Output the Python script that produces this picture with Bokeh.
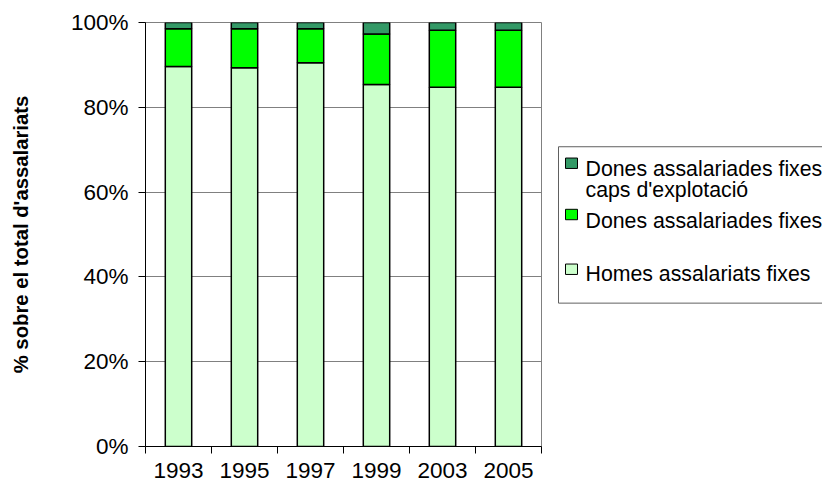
from bokeh.plotting import figure
from bokeh.layouts import row
from bokeh.models import FixedTicker, PrintfTickFormatter, Range1d, ColumnDataSource
from bokeh.core.properties import value
from bokeh.embed import file_html
from bokeh.resources import INLINE

# ---- data ----
years = ["1993", "1995", "1997", "1999", "2003", "2005"]
homes = [89.6, 89.3, 90.5, 85.4, 84.7, 84.7]
dones = [8.9, 9.2, 8.0, 11.9, 13.5, 13.5]
dones_caps = [1.5, 1.5, 1.5, 2.7, 1.8, 1.8]
series_names = ["Homes assalariats fixes", "Dones assalariades fixes",
                "Dones assalariades fixes\ncaps d'explotació"]
series_colors = ["#CCFFCC", "#00FF00", "#339966"]
y_ticks = [0, 20, 40, 60, 80, 100]

FONT = "Liberation Sans"

xs = list(range(1, len(years) + 1))
bounds = [x - 0.5 for x in xs] + [xs[-1] + 0.5]

src = ColumnDataSource(dict(x=xs, homes=homes, dones=dones, caps=dones_caps))

p = figure(width=550, height=488, output_backend="svg", toolbar_location=None,
           x_range=Range1d(0.5, len(years) + 0.5), y_range=Range1d(0, 100),
           min_border_left=145, min_border_right=9, min_border_top=22,
           min_border_bottom=42)
p.background_fill_color = "white"
p.border_fill_color = "white"
p.outline_line_color = "#808080"
p.outline_line_width = 1

p.vbar_stack(["homes", "dones", "caps"], x="x", width=0.4, source=src,
             fill_color=series_colors, line_color="black", line_width=1.5)

# x axis
p.xaxis.ticker = FixedTicker(ticks=xs, minor_ticks=bounds)
p.xaxis.major_label_overrides = {x: y for x, y in zip(xs, years)}
p.xaxis.major_tick_line_color = None
p.xaxis.major_tick_out = 0
p.xaxis.major_tick_in = 0
p.xaxis.minor_tick_line_color = "black"
p.xaxis.minor_tick_out = 7
p.xaxis.minor_tick_in = 0
p.xaxis.major_label_standoff = 9
p.xaxis.axis_line_color = "black"
p.xaxis.major_label_text_font = FONT
p.xaxis.major_label_text_font_size = "22.5px"
p.xaxis.major_label_text_color = "black"

# y axis
p.yaxis.ticker = FixedTicker(ticks=y_ticks)
p.yaxis.formatter = PrintfTickFormatter(format="%d%%")
p.yaxis.major_tick_out = 7
p.yaxis.major_tick_in = 0
p.yaxis.minor_tick_line_color = None
p.yaxis.major_tick_line_color = "black"
p.yaxis.axis_line_color = "black"
p.yaxis.major_label_standoff = 10
p.yaxis.major_label_text_font = FONT
p.yaxis.major_label_text_font_size = "22.5px"
p.yaxis.major_label_text_color = "black"
p.yaxis.axis_label = "% sobre el total d'assalariats"
p.yaxis.axis_label_text_font = FONT
p.yaxis.axis_label_text_font_size = "20.3px"
p.yaxis.axis_label_text_font_style = "bold"
p.yaxis.axis_label_text_color = "black"
p.yaxis.axis_label_standoff = 36

p.xgrid.grid_line_color = None
p.ygrid.grid_line_color = "#808080"
p.ygrid.grid_line_width = 1

# ---- legend panel ----
leg = figure(width=272, height=488, output_backend="svg", toolbar_location=None,
             x_range=Range1d(0, 272), y_range=Range1d(488, 0),
             x_axis_type=None, y_axis_type=None,
             min_border_left=0, min_border_right=0, min_border_top=0,
             min_border_bottom=0)
leg.outline_line_color = None
leg.grid.visible = False
leg.background_fill_color = "white"
leg.border_fill_color = "white"

leg.quad(left=[8], right=[290], top=[143], bottom=[323],
         fill_color="white", line_color="#606060", line_width=1)

# entries listed top-to-bottom (reverse of stacking order)
order = [2, 1, 0]
sw_y = [162, 221, 284]
base_y = [169, 228, 289]
sw_x, sw_y2, sw_c = [], [], []
tx, ty, tt = [], [], []
for k, i in enumerate(order):
    sw_x.append(21)
    sw_y2.append(sw_y[k])
    sw_c.append(series_colors[i])
    lines = series_names[i].split("\n")
    for j, line in enumerate(lines):
        tx.append(35)
        ty.append(base_y[k] + 24 * j)
        tt.append(line)

leg.rect(x=sw_x, y=sw_y2, width=12, height=12, fill_color=sw_c,
         line_color="black", line_width=1)
leg.text(x=tx, y=ty, text=tt, text_font=value(FONT), text_font_size="21.3px",
         text_baseline="alphabetic", text_align="left", text_color="black")

layout = row(p, leg)
open("out.html", "w").write(file_html(layout, INLINE))
